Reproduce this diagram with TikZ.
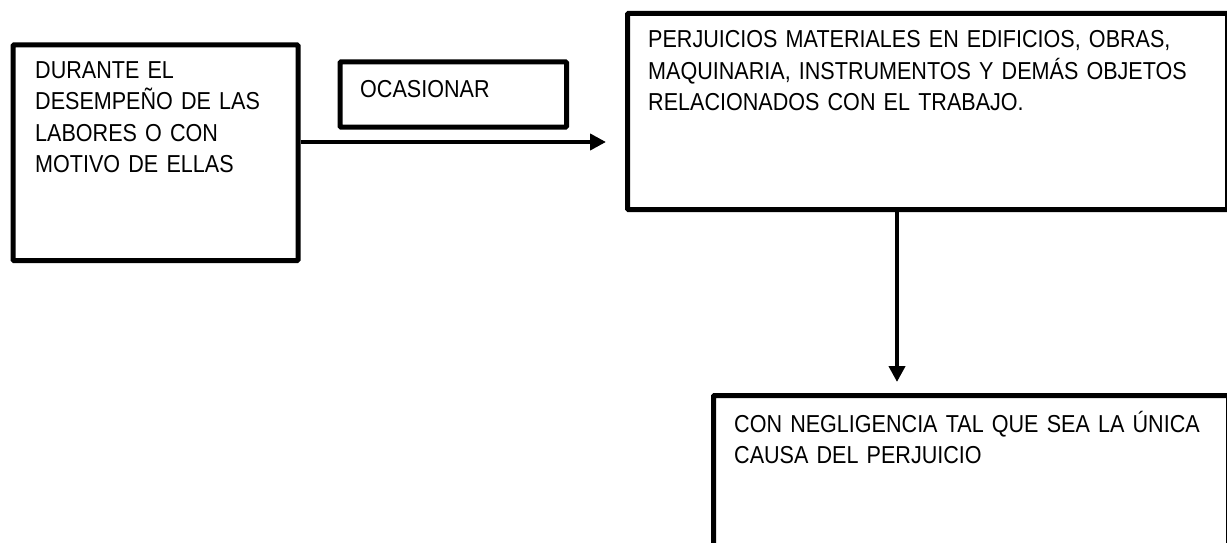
\documentclass[tikz,border=0pt]{standalone}
\usepackage{fontspec}
\setmainfont{Liberation Sans}[FakeStretch=0.88]
\usetikzlibrary{arrows.meta}
\tikzset{
  box/.style={draw=black, line width=5pt, inner sep=0pt, anchor=north west, rounded corners=1pt},
  txt/.style={anchor=base west, inner sep=0pt, align=left, text width=600pt,
    font=\fontsize{24.5pt}{31.5pt}\selectfont},
  conn/.style={line width=4.5pt, -{Triangle[length=16pt,width=16pt]}}
}
\begin{document}
\begin{tikzpicture}[x=1pt,y=-1pt]
\useasboundingbox (0,0) rectangle (1227,543);
% boxes
\node[box, minimum width=285pt, minimum height=215.5pt] (b1) at (10.5,42.5) {};
\node[box, minimum width=226.5pt, minimum height=65pt] (b2) at (337.5,59.5) {};
\node[box, minimum width=600pt, minimum height=196pt] (b3) at (625,11) {};
\node[box, minimum width=515pt, minimum height=220pt] (b4) at (711,393) {};
% texts
\node[txt] (t1) at (35,78) {DURANTE EL\\DESEMPEÑO DE LAS\\LABORES O CON\\MOTIVO DE ELLAS};
\node[txt] (t2) at (360,97) {OCASIONAR};
\node[txt] (t3) at (648,48) {PERJUICIOS MATERIALES EN EDIFICIOS, OBRAS,\\MAQUINARIA, INSTRUMENTOS Y DEMÁS OBJETOS\\RELACIONADOS CON EL TRABAJO.};
\node[txt] (t4) at (734,432) {CON NEGLIGENCIA TAL QUE SEA LA ÚNICA\\CAUSA DEL PERJUICIO};
% connectors
\coordinate (e1) at (606,142);
\coordinate (e2) at (897,382);
\draw[conn] (b1.east |- e1) -- (e1);
\draw[conn] (e2 |- b3.south) -- (e2);
\end{tikzpicture}
\end{document}
